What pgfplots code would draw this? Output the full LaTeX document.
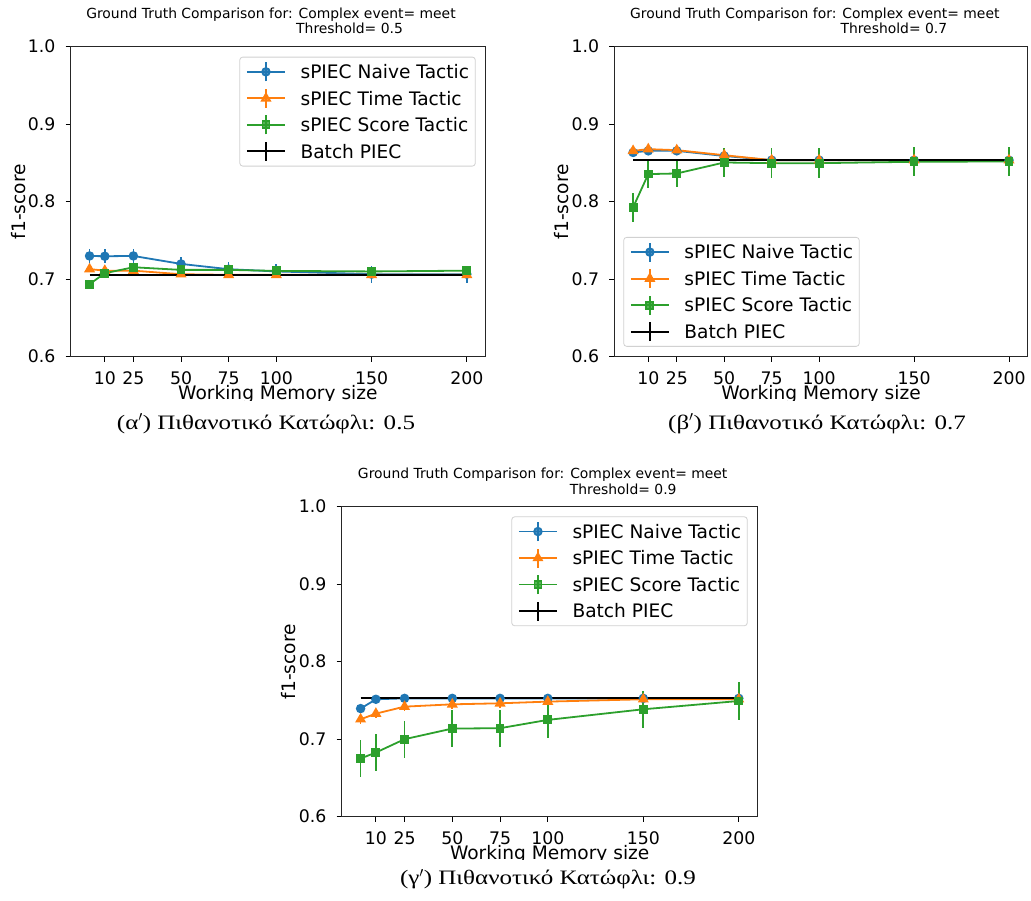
\documentclass[border=0pt]{standalone}
\usepackage{fontspec}
\setmainfont{DejaVu Sans}
\newfontfamily\capfont[FakeStretch=1.22]{Liberation Serif}
\usepackage{pgfplots}
\usepackage{pgfplotstable}
\pgfplotsset{compat=1.18}

\definecolor{tabblue}{HTML}{1F77B4}
\definecolor{taborange}{HTML}{FF7F0E}
\definecolor{tabgreen}{HTML}{2CA02C}

\pgfplotstableread{
x n en t et s es b
2 0.7300 0.0095 0.7130 0.0040 0.6936 0.0045 0.7058
10 0.7296 0.0090 0.7110 0.0040 0.7077 0.0040 0.7058
25 0.7300 0.0090 0.7110 0.0040 0.7154 0.0040 0.7058
50 0.7197 0.0090 0.7064 0.0035 0.7120 0.0035 0.7058
75 0.7129 0.0090 0.7056 0.0035 0.7120 0.0035 0.7058
100 0.7100 0.0090 0.7056 0.0035 0.7107 0.0035 0.7058
150 0.7065 0.0110 0.7056 0.0035 0.7100 0.0035 0.7058
200 0.7065 0.0110 0.7056 0.0035 0.7110 0.0035 0.7058
}\dataA

\pgfplotstableread{
x n en t et s es b
2 0.8635 0.0030 0.8656 0.0030 0.7927 0.0190 0.8540
10 0.8656 0.0030 0.8678 0.0030 0.8356 0.0175 0.8540
25 0.8656 0.0030 0.8665 0.0030 0.8364 0.0180 0.8540
50 0.8590 0.0030 0.8600 0.0030 0.8506 0.0190 0.8540
75 0.8536 0.0030 0.8536 0.0030 0.8497 0.0190 0.8540
100 0.8536 0.0030 0.8536 0.0030 0.8497 0.0190 0.8540
150 0.8536 0.0030 0.8536 0.0030 0.8515 0.0190 0.8540
200 0.8536 0.0030 0.8536 0.0030 0.8519 0.0190 0.8540
}\dataB

\pgfplotstableread{
x n en t et s es b
2 0.7395 0.0020 0.7257 0.0060 0.6751 0.0236 0.7527
10 0.7515 0.0020 0.7330 0.0060 0.6828 0.0240 0.7527
25 0.7527 0.0015 0.7420 0.0050 0.7000 0.0240 0.7527
50 0.7527 0.0015 0.7450 0.0060 0.7137 0.0240 0.7527
75 0.7527 0.0015 0.7463 0.0060 0.7142 0.0240 0.7527
100 0.7527 0.0015 0.7485 0.0050 0.7249 0.0240 0.7527
150 0.7527 0.0015 0.7515 0.0050 0.7386 0.0240 0.7527
200 0.7527 0.0015 0.7515 0.0050 0.7493 0.0240 0.7527
}\dataC

\pgfplotsset{
  legimg/.style={legend image code/.code={
    \draw[mark repeat=2, mark phase=2, ##1] plot coordinates {(0pt,0pt) (19pt,0pt) (38pt,0pt)};
    \draw[##1] (19pt,-9.5pt) -- (19pt,9.5pt);
    \path (52.7pt,0pt);
  }},
  myaxis/.style={
    scale only axis, height=310pt,
    xmin=-7.9, xmax=209.9, ymin=0.6, ymax=1.0,
    xtick={10,25,50,75,100,150,200},
    ytick={0.6,0.7,0.8,0.9,1.0},
    /pgf/number format/assume math mode=true,
    yticklabel={\pgfmathprintnumber[fixed,fixed zerofill,precision=1]{\tick}},
    tick pos=left, tick align=outside, major tick length=5pt,
    every tick/.style={black, line width=1pt},
    axis line style={black!85, line width=1pt},
    tick label style={font=\fontsize{17.3}{20}\selectfont, inner sep=0pt},
    xticklabel style={anchor=base, yshift=-22.7pt},
    yticklabel style={anchor=east, xshift=-10pt},
    ylabel={f1-score},
    ylabel style={font=\fontsize{18.6}{22}\selectfont, at={(axis description cs:-0.1101,0.5)}, anchor=base, inner sep=0pt},
    legend cell align=left,
    legend style={font=\fontsize{18.6}{22}\selectfont, draw=black!18, line width=0.8pt,
      rounded corners=3pt, fill=white, fill opacity=0.8, text opacity=1,
      inner xsep=6.3pt, inner ysep=1.5pt, row sep=0pt,
      nodes={inner xsep=0pt, inner ysep=6.45pt, text height=13.6pt, text depth=0pt}},
  },
  nv/.style={tabblue, line width=1.8pt, mark=*, mark size=3.8pt, mark options={solid}},
  tm/.style={taborange, line width=1.8pt, mark=triangle*, mark size=4.6pt, mark options={solid}},
  sc/.style={tabgreen, line width=1.8pt, mark=square*, mark size=3.5pt, mark options={solid}},
  bt/.style={black, line width=1.8pt, mark=none},
  eb/.style={error bars/.cd, y dir=both, y explicit, error mark=none, error bar style={#1, line width=1.6pt}},
}

\newcommand{\drawseries}[1]{%
  \addlegendimage{nv, legimg}\addlegendentry{sPIEC Naive Tactic}
  \addlegendimage{tm, legimg}\addlegendentry{sPIEC Time Tactic}
  \addlegendimage{sc, legimg}\addlegendentry{sPIEC Score Tactic}
  \addlegendimage{bt, legimg}\addlegendentry{Batch PIEC}
  \addplot[nv, forget plot, eb=tabblue] table[x=x, y=n, y error=en] {#1};
  \addplot[tm, forget plot, eb=taborange] table[x=x, y=t, y error=et] {#1};
  \addplot[sc, forget plot, eb=tabgreen] table[x=x, y=s, y error=es] {#1};
  \addplot[bt, forget plot] table[x=x, y=b] {#1};
}

\newcommand{\ttl}{\fontsize{13.9}{16}\selectfont}
\newcommand{\lbl}{\fontsize{18.6}{22}\selectfont}
\newcommand{\capsz}{\capfont\fontsize{20.5}{24}\selectfont}

\begin{document}
\begin{tikzpicture}
\useasboundingbox (0,0) rectangle (1031pt,901pt);

% ---------- (a) threshold 0.5
\begin{axis}[myaxis, width=415pt, at={(70.7pt,544.3pt)}, anchor=south west,
  legend style={at={(rel axis cs:0.976,0.9677)}, anchor=north east}]
\drawseries{\dataA}
\end{axis}
\node[anchor=base, inner sep=0pt, font=\ttl] at (271pt,882.7pt) {Ground Truth Comparison for: Complex event= meet};
\node[anchor=base west, inner sep=0pt, font=\ttl] at (296pt,867.3pt) {Threshold= 0.5};
\begin{scope}
\clip (0pt,500.8pt) rectangle (1031pt,530pt);
\node[anchor=base, inner sep=0pt, font=\lbl] at (277.9pt,501.3pt) {Working Memory size};
\end{scope}
\node[anchor=base, inner sep=0pt, font=\capsz] at (266pt,471.5pt) {(α$'$) Πιθανοτικό Κατώφλι: 0.5};

% ---------- (b) threshold 0.7
\begin{axis}[myaxis, width=413.5pt, at={(614.3pt,544.3pt)}, anchor=south west,
  legend style={at={(rel axis cs:0.0217,0.032)}, anchor=south west}]
\drawseries{\dataB}
\end{axis}
\node[anchor=base, inner sep=0pt, font=\ttl] at (814.8pt,882.7pt) {Ground Truth Comparison for: Complex event= meet};
\node[anchor=base west, inner sep=0pt, font=\ttl] at (840.3pt,867.3pt) {Threshold= 0.7};
\begin{scope}
\clip (0pt,500.8pt) rectangle (1031pt,530pt);
\node[anchor=base, inner sep=0pt, font=\lbl] at (821pt,501.3pt) {Working Memory size};
\end{scope}
\node[anchor=base, inner sep=0pt, font=\capsz] at (817pt,471.5pt) {(β$'$) Πιθανοτικό Κατώφλι: 0.7};

% ---------- (c) threshold 0.9
\begin{axis}[myaxis, width=416pt, at={(341.7pt,84.3pt)}, anchor=south west,
  legend style={at={(rel axis cs:0.976,0.9687)}, anchor=north east}]
\drawseries{\dataC}
\end{axis}
\node[anchor=base, inner sep=0pt, font=\ttl] at (542.7pt,422.1pt) {Ground Truth Comparison for: Complex event= meet};
\node[anchor=base west, inner sep=0pt, font=\ttl] at (569.7pt,406.7pt) {Threshold= 0.9};
\begin{scope}
\clip (0pt,41.3pt) rectangle (1031pt,70pt);
\node[anchor=base, inner sep=0pt, font=\lbl] at (549.7pt,41.8pt) {Working Memory size};
\end{scope}
\node[anchor=base, inner sep=0pt, font=\capsz] at (548pt,16pt) {(γ$'$) Πιθανοτικό Κατώφλι: 0.9};
\end{tikzpicture}
\end{document}
